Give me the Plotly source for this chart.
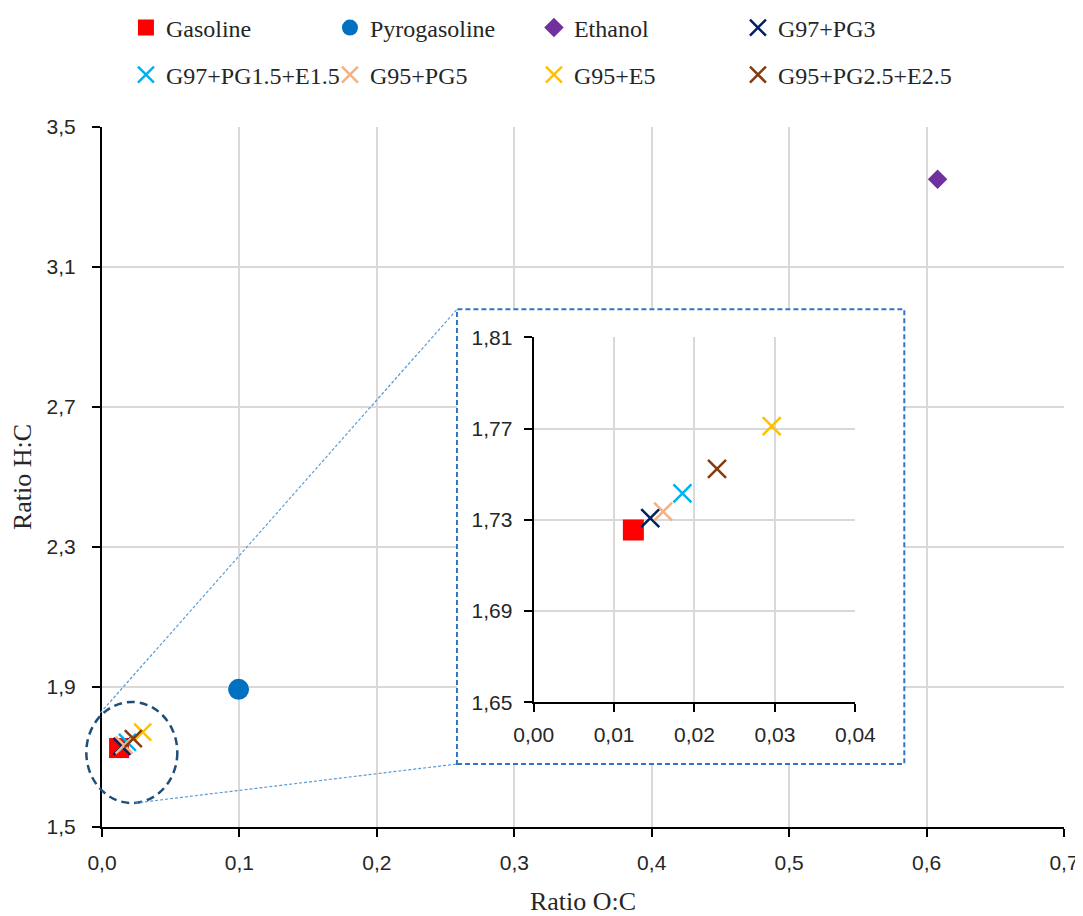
import plotly.graph_objects as go

# ---------------- data ----------------
names = ["Gasoline", "Pyrogasoline", "Ethanol", "G97+PG3",
         "G97+PG1.5+E1.5", "G95+PG5", "G95+E5", "G95+PG2.5+E2.5"]
ratio_oc = [0.0124, 0.0994, 0.608, 0.0145, 0.0185, 0.0161, 0.0296, 0.0228]
ratio_hc = [1.7255, 1.8934, 3.3506, 1.7307, 1.7416, 1.7336, 1.7711, 1.7523]
colors = ["#FF0000", "#0070C0", "#7030A0", "#002060",
          "#00B0F0", "#F4B183", "#FFC000", "#843C0C"]
symbols = ["square", "circle", "diamond", "x-thin-open",
           "x-thin-open", "x-thin-open", "x-thin-open", "x-thin-open"]
sizes = [20, 21, 15, 17, 17, 17, 17, 17]
legend_row = ["legend", "legend", "legend", "legend",
              "legend2", "legend2", "legend2", "legend2"]

main_x_ticks = [0.0, 0.1, 0.2, 0.3, 0.4, 0.5, 0.6, 0.7]
main_y_ticks = [1.5, 1.9, 2.3, 2.7, 3.1, 3.5]
inset_x_ticks = [0.00, 0.01, 0.02, 0.03, 0.04]
inset_y_ticks = [1.65, 1.69, 1.73, 1.77, 1.81]

SERIF = "Liberation Serif"
SANS = "Liberation Sans"
GRID = "#D9D9D9"
TXT = "#262626"

fig = go.Figure()

# main scatter
for i, n in enumerate(names):
    is_x = symbols[i].startswith("x")
    last_in_row = (i % 4 == 3)
    fig.add_trace(go.Scatter(
        x=[ratio_oc[i]], y=[ratio_hc[i]], name=n, mode="markers",
        legend=legend_row[i],
        legendwidth=200 if last_in_row else None,
        marker=dict(symbol=symbols[i], size=sizes[i], color=colors[i],
                    line=dict(width=2.5 if is_x else 0, color=colors[i])),
        xaxis="x", yaxis="y", cliponaxis=False,
    ))

# white panel behind the inset (covers main grid)
fig.add_trace(go.Scatter(
    x=[0, 1, 1, 0, 0], y=[0, 0, 1, 1, 0], mode="lines", fill="toself",
    fillcolor="white", line=dict(width=0), hoverinfo="skip",
    showlegend=False, xaxis="x2", yaxis="y2"))

# inset scatter
for i, n in enumerate(names):
    is_x = symbols[i].startswith("x")
    fig.add_trace(go.Scatter(
        x=[ratio_oc[i]], y=[ratio_hc[i]], name=n, mode="markers",
        showlegend=False,
        marker=dict(symbol=symbols[i], size=sizes[i] + 1, color=colors[i],
                    line=dict(width=2.5 if is_x else 0, color=colors[i])),
        xaxis="x3", yaxis="y3", cliponaxis=True,
    ))

# geometry: plot area 962 x 700 px
box = dict(x0=0.369, x1=0.834, y0=0.090, y1=0.7396)
ell = dict(x0=-0.0163, x1=0.0783, y0=0.0343, y1=0.1786)

axis_common = dict(showline=True, linecolor="black", linewidth=2,
                   ticks="outside", ticklen=8, tickwidth=2, tickcolor="black",
                   showgrid=True, gridcolor=GRID, gridwidth=2, zeroline=False,
                   automargin=False,
                   tickfont=dict(family=SANS, size=21, color=TXT))

legend_common = dict(orientation="h", x=0.0249, xanchor="left", yanchor="middle",
                     entrywidth=159, entrywidthmode="pixels",
                     font=dict(family=SERIF, size=24, color=TXT),
                     bgcolor="rgba(0,0,0,0)", itemsizing="trace")

fig.update_layout(
    width=1075, height=908,
    margin=dict(l=94, r=19, t=119, b=89, autoexpand=False),
    paper_bgcolor="white", plot_bgcolor="white",
    separators=", ",
    xaxis=dict(range=[0, 0.7], tickvals=main_x_ticks, tickformat=".1f",
               domain=[0, 1], ticklabelstandoff=8,
               title=dict(text="Ratio O:C", font=dict(family=SERIF, size=26, color=TXT),
                          standoff=26),
               **axis_common),
    yaxis=dict(range=[1.5, 3.5], tickvals=main_y_ticks, tickformat=".1f",
               domain=[0, 1], ticklabelstandoff=12,
               title=dict(text="Ratio H:C", font=dict(family=SERIF, size=26, color=TXT),
                          standoff=12),
               **axis_common),
    xaxis2=dict(domain=[box["x0"], box["x1"]], range=[0, 1], visible=False,
                fixedrange=True),
    yaxis2=dict(domain=[box["y0"], box["y1"]], range=[0, 1], visible=False,
                fixedrange=True),
    xaxis3=dict(domain=[0.4487, 0.7831], range=[0, 0.04], tickvals=inset_x_ticks,
                tickformat=".2f", anchor="y3", ticklabelstandoff=4, **axis_common),
    yaxis3=dict(domain=[0.1781, 0.6996], range=[1.65, 1.81], tickvals=inset_y_ticks,
                tickformat=".2f", anchor="x3", ticklabelstandoff=7, **axis_common),
    legend=dict(y=1.1414, **legend_common),
    legend2=dict(y=1.0743, **legend_common),
    shapes=[
        dict(type="rect", xref="paper", yref="paper", layer="above",
             line=dict(color="#3075C8", width=2, dash="5px,3px"),
             fillcolor="rgba(0,0,0,0)", **box),
        dict(type="circle", xref="paper", yref="paper", layer="above",
             line=dict(color="#1F4E79", width=2.5, dash="8px,5px"),
             fillcolor="rgba(0,0,0,0)", **ell),
        dict(type="line", xref="paper", yref="paper", layer="above",
             x0=-0.0018, y0=0.1629, x1=box["x0"], y1=box["y1"],
             line=dict(color="#5B9BD5", width=1.2, dash="3px,2px")),
        dict(type="line", xref="paper", yref="paper", layer="above",
             x0=0.0346, y0=0.0343, x1=box["x0"], y1=box["y0"],
             line=dict(color="#5B9BD5", width=1.2, dash="3px,2px")),
    ],
)

fig.write_html("out.html")
